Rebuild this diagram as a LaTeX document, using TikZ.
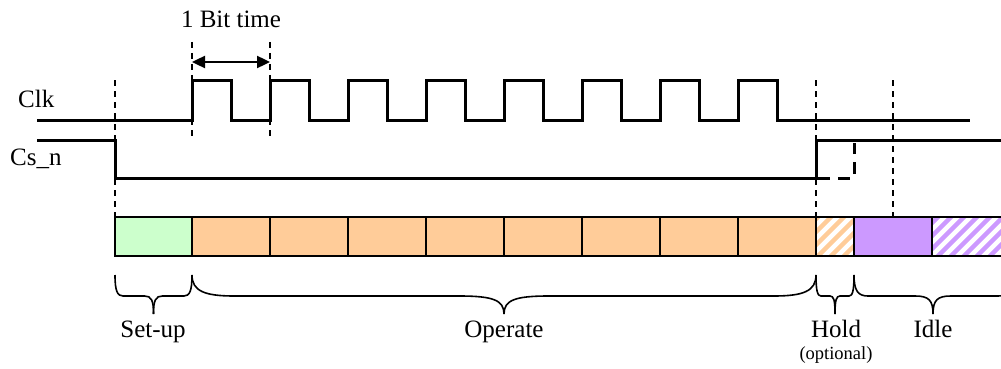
\documentclass[tikz,border=0pt]{standalone}
\usepackage{fontspec}
\setmainfont{Liberation Serif}
\usetikzlibrary{arrows.meta}

\definecolor{setupgreen}{HTML}{CCFFCC}
\definecolor{oporange}{HTML}{FFCC99}
\definecolor{idlepurple}{HTML}{CC99FF}

\tikzset{
    sig/.style={line width=3pt, line join=miter},
    sigdash/.style={line width=3pt, dash pattern=on 12pt off 8pt},
    guide/.style={line width=1.4pt, dash pattern=on 6pt off 5pt},
    cell/.style={line width=1.6pt},
    bracepen/.style={line width=1.6pt},
    lbl/.style={inner sep=0pt, font=\fontsize{25}{30}\selectfont},
    small/.style={inner sep=0pt, font=\fontsize{18.5}{22}\selectfont}
}

% word-like curly brace below the cells: left x, right x, end radius, middle radius
\newcommand\wbrace[4]{%
    \draw[bracepen] (#1,275) .. controls (#1,291) and ({#1+0.3*#3},296) .. ({#1+#3},296)
        -- ({(#1+#2)/2-#4},296) .. controls ({(#1+#2)/2-0.25*#4},296) and ({(#1+#2)/2},300) .. ({(#1+#2)/2},314);
    \draw[bracepen] (#2,275) .. controls (#2,291) and ({#2-0.3*#3},296) .. ({#2-#3},296)
        -- ({(#1+#2)/2+#4},296) .. controls ({(#1+#2)/2+0.25*#4},296) and ({(#1+#2)/2},300) .. ({(#1+#2)/2},314);
}

\begin{document}
\begin{tikzpicture}[x=1pt, y=-1pt]
    \useasboundingbox (0,0) rectangle (1001,369);

    % cells
    \fill[setupgreen] (115,217) rectangle (192,256);
    \fill[oporange] (192,217) rectangle (816,256);
    \fill[idlepurple] (854,217) rectangle (932,256);
    \begin{scope}
        \clip (816,217) rectangle (854,256);
        \foreach \s in {760,773,...,860}
            \draw[oporange, line width=4.5pt] (\s,262) -- ++(50,-50);
    \end{scope}
    \begin{scope}
        \clip (932,217) rectangle (1001,256);
        \foreach \s in {880,893,...,1010}
            \draw[idlepurple, line width=4.5pt] (\s,262) -- ++(50,-50);
    \end{scope}
    \draw[cell] (1001,217) -- (115,217) -- (115,256) -- (1001,256);
    \foreach \x in {192,270,...,816,854,932}
        \draw[cell] (\x,217) -- (\x,256);

    % guides
    \foreach \x in {115,816,893}
        \draw[guide] (\x,80) -- (\x,217);
    \foreach \x in {192,270}
        \draw[guide] (\x,42) -- (\x,137);

    % signals
    \node[lbl, anchor=base west] (clk) at (18,107) {Clk};
    \node[lbl, anchor=base west] (csn) at (10,165) {Cs\_n};
    \draw[sig] (37,120) foreach \x in {192,270,...,738} {
        -- (\x,120) -- (\x,80) -- ({\x+39},80) -- ({\x+39},120) } -- (970,120);
    \draw[sig] (37,140) -- (115,140) -- (115,178) -- (816,178) -- (816,140) -- (1001,140);
    \draw[sigdash] (818,178) -- (854,178) -- (854,143);

    % bit time
    \coordinate (bt1) at (192,62);
    \coordinate (bt2) at (270,62);
    \draw[line width=2.4pt, {Triangle[length=13pt,width=12pt]}-{Triangle[length=13pt,width=12pt]}] (bt1) -- (bt2);
    \node[lbl, anchor=base] (bittime) at (231,28) {1 Bit time};

    % phases
    \wbrace{115}{192}{8}{9}
    \wbrace{192}{816}{42}{45}
    \wbrace{816}{854}{5}{5}
    \wbrace{854}{1012}{14}{18}
    \node[lbl, anchor=base] (setup) at (153,337) {Set-up};
    \node[lbl, anchor=base] (operate) at (504,337) {Operate};
    \node[lbl, anchor=base] (hold) at (836,337) {Hold};
    \node[small, anchor=base] (optional) at (836,359) {(optional)};
    \node[lbl, anchor=base] (idle) at (933,337) {Idle};
\end{tikzpicture}
\end{document}
